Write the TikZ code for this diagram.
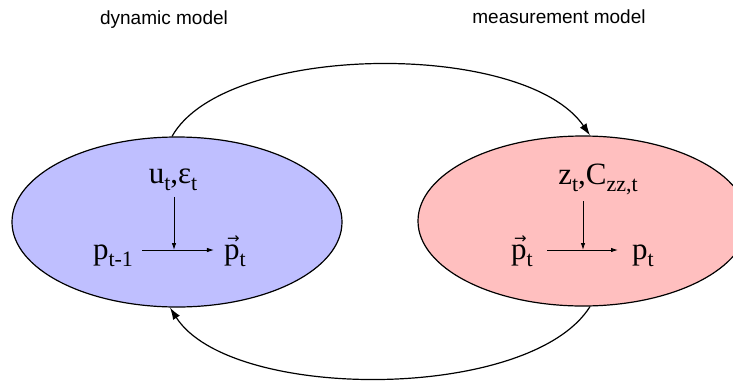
\documentclass[tikz,border=0pt]{standalone}
\usepackage{fontspec}
\setmainfont{Liberation Serif}
\newfontfamily\labsans{Liberation Sans}
\newfontfamily\arrfont{DejaVu Sans}
\usetikzlibrary{shapes.geometric,arrows.meta}
\newcommand{\lowsub}[1]{\raisebox{-0.24em}{\fontsize{22}{22}\selectfont #1}}
\newcommand{\vp}{\ooalign{p\cr\hidewidth\kern0.1em\raisebox{0.5em}{\arrfont\fontsize{15}{15}\selectfont →}\hidewidth\cr}}
\begin{document}
\begin{tikzpicture}[x=1pt,y=-1pt,
  model/.style={ellipse,draw=black,line width=1.2pt,minimum width=330pt,minimum height=170pt,inner sep=0pt},
  lbl/.style={font=\labsans\fontsize{19}{22}\selectfont,anchor=base,inner sep=0pt},
  sym/.style={font=\fontsize{31}{34}\selectfont,anchor=base,inner sep=0pt},
  bigarc/.style={line width=1.2pt,-{Latex[length=12pt,width=8pt]}},
  smallarr/.style={line width=0.9pt,-{Latex[length=7pt,width=4.5pt]}}]
\useasboundingbox (0,0) rectangle (733,381);
\node[model,fill={rgb,255:red,191;green,191;blue,255}] (L) at (177,222) {};
\node[model,fill={rgb,255:red,255;green,191;blue,191}] (R) at (583,221) {};
\node[lbl] (tl) at (164,24) {dynamic model};
\node[lbl] (tr) at (559,23) {measurement model};
% left inner
\node[sym] (uA) at (173,183) {u\lowsub{t},ε\lowsub{t}};
\node[sym] (pA) at (113,259) {p\lowsub{t-1}};
\node[sym] (pB) at (235,259) {\vp\lowsub{t}};
\coordinate (jA) at (174,250);
\draw[smallarr] ([xshift=9pt]jA -| pA.east) -- ([xshift=-10pt]jA -| pB.west);
\draw[smallarr] (uA.south -| jA) ++(0,6) -- (jA);
% right inner
\node[sym] (zB) at (598,184) {z\lowsub{t},C\lowsub{zz,t}};
\node[sym] (pC) at (522,259) {\vp\lowsub{t}};
\node[sym] (pD) at (643,259) {p\lowsub{t}};
\coordinate (jB) at (583,250);
\draw[smallarr] ([xshift=14pt]jB -| pC.east) -- ([xshift=-14pt]jB -| pD.west);
\draw[smallarr] (zB.south -| jB) ++(0,6) -- (jB);
% big arcs
\draw[bigarc] ([xshift=-5pt]L.north) .. controls (225,42) and (525,40) .. ([xshift=7pt]R.north);
\draw[bigarc] ([xshift=7pt]R.south) .. controls (530,402) and (230,402) .. ([xshift=-7pt]L.south);
\end{tikzpicture}
\end{document}
